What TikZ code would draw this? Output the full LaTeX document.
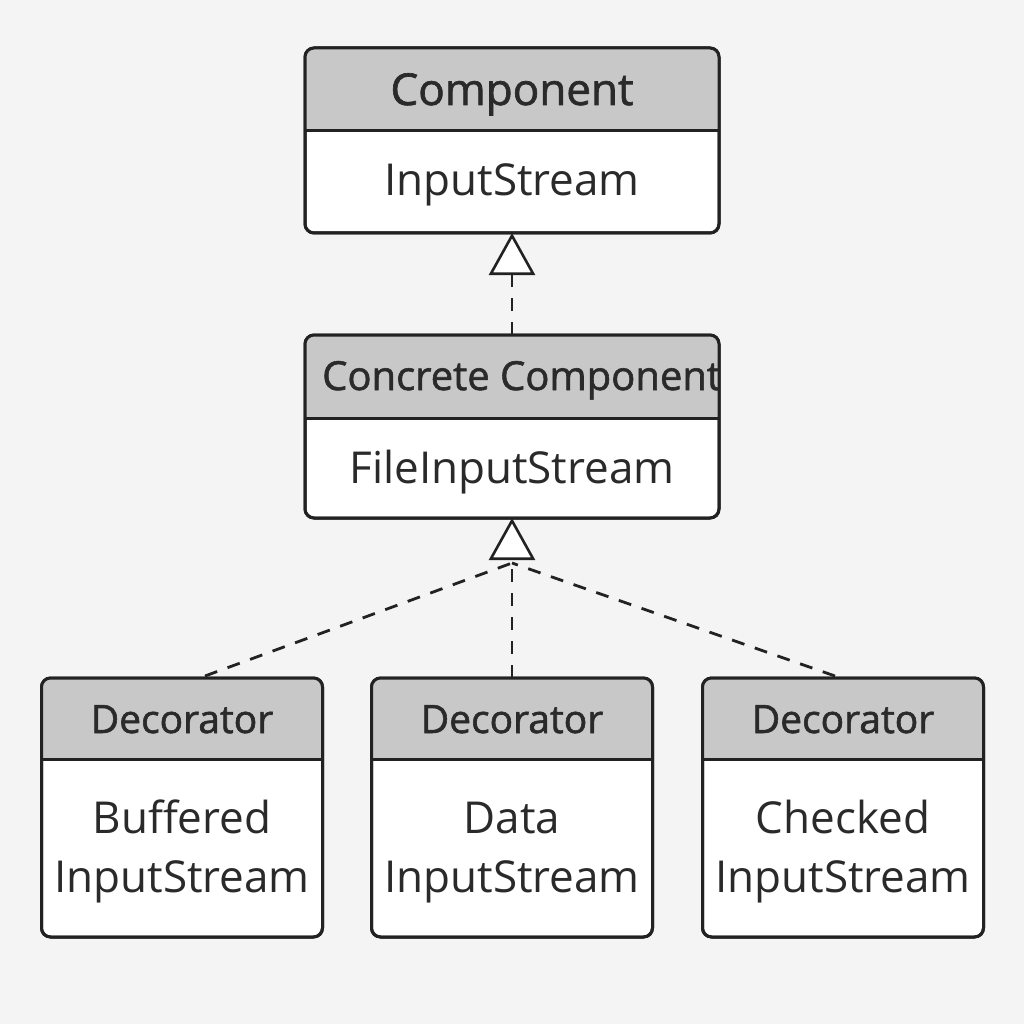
\documentclass[tikz,border=0pt]{standalone}
\usepackage{fontspec}
\setmainfont{Open Sans}
\newfontfamily\hdfont[FakeBold=1.5]{Open Sans}
\usetikzlibrary{arrows.meta,calc}
\definecolor{bg}{HTML}{F4F4F4}
\definecolor{hdr}{HTML}{C8C8C8}
\definecolor{ink}{HTML}{222222}
\definecolor{txt}{HTML}{2A2A2A}
\newcommand\mkclass[6]{%
  \node[classbox, minimum width=#6pt, minimum height=#5pt, anchor=north] (#1) at (#2,#3) {};
  \begin{scope}
    \clip[rounded corners=9pt] (#1.north west) rectangle (#1.south east);
    \fill[hdr] (#1.north west) rectangle ($(#1.north east)+(0,#4)$);
  \end{scope}
  \draw[ink, line width=3pt] ($(#1.north west)+(0,#4)$) -- ($(#1.north east)+(0,#4)$);
  \draw[ink, line width=3pt, rounded corners=9pt] (#1.north west) rectangle (#1.south east);
}
\begin{document}
\begin{tikzpicture}[x=1pt,y=-1pt,
  classbox/.style={draw=ink, line width=3pt, rounded corners=9pt, fill=white, inner sep=0pt, outer sep=0pt},
  htext/.style={font=\hdfont\fontsize{44}{50}\selectfont, text=txt, anchor=base, inner sep=0pt},
  dtext/.style={font=\hdfont\fontsize{39}{46}\selectfont, text=txt, anchor=base, inner sep=0pt},
  btext/.style={font=\fontsize{44}{59}\selectfont, text=txt, anchor=base, inner sep=0pt, align=center},
  dep/.style={draw=ink, line width=2.8pt, dash pattern=on 13pt off 11pt},
  realize/.style={-{Triangle[length=42pt,width=46pt,fill=white,line width=2.6pt]}}
]
\fill[bg] (0,0) rectangle (1024,1024);
\useasboundingbox (0,0) rectangle (1024,1024);

% classes
\mkclass{comp}{512}{48}{83}{185}{414}
\mkclass{cc}{512}{335}{83}{183}{414}
\mkclass{dec1}{182}{678}{81}{259}{281}
\mkclass{dec2}{512}{678}{81}{259}{281}
\mkclass{dec3}{843}{678}{81}{259}{281}

% texts
\node[htext] (compH) at (512,105) {Component};
\node[btext] (compB) at (512,196) {InputStream};
\begin{scope}
  \clip (cc.north west) rectangle ($(cc.north east)+(0,83)$);
  \node[htext, anchor=base west, font=\hdfont\fontsize{40}{50}\selectfont] (ccH) at (322,390) {Concrete Component};
\end{scope}
\node[btext] (ccB) at (512,483) {FileInputStream};
\node[dtext] (d1H) at (182,733) {Decorator};
\node[dtext] (d2H) at (512,733) {Decorator};
\node[dtext] (d3H) at (843,733) {Decorator};
\node[btext] (d1B) at (182,892) {Buffered\\InputStream};
\node[btext] (d2B) at (512,892) {Data\\InputStream};
\node[btext] (d3B) at (843,892) {Checked\\InputStream};

% connectors
\coordinate (join) at (512,563);
\draw[dep, realize] (cc.north) -- (comp.south);
\draw[dep, realize] (dec2.north) -- (cc.south);
\draw[dep] ($(dec1.north)+(23,-2)$) -- (join);
\draw[dep] ($(dec3.north)+(-8,-2)$) -- (join);
\end{tikzpicture}
\end{document}
